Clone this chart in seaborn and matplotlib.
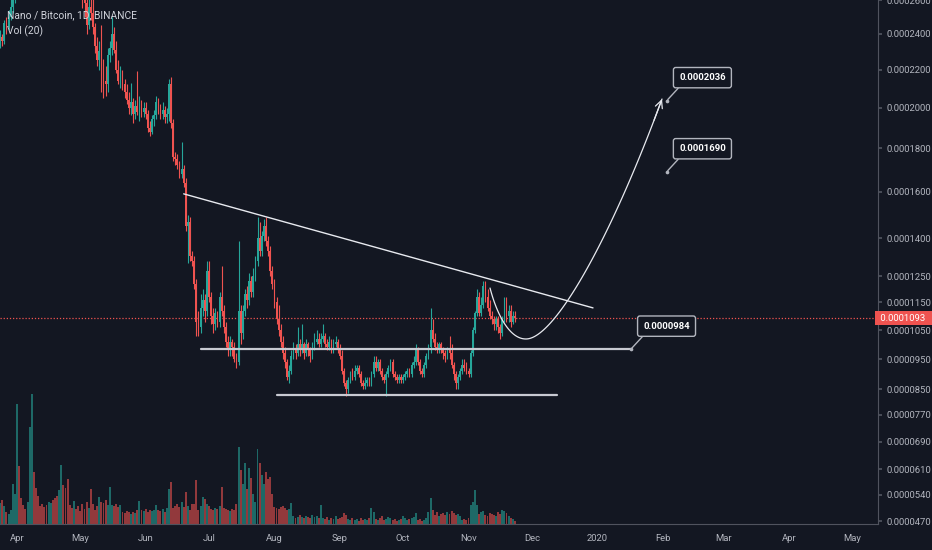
import numpy as np
import pandas as pd
import matplotlib
matplotlib.use("Agg")
import matplotlib.pyplot as plt
import matplotlib.transforms as mtransforms
import seaborn as sns

# colours (TradingView dark)
BG = '#131722'
UP = '#26a69a'
DOWN = '#ef5350'
TXT = '#b2b5be'
LINE = '#50535e'

# daily candles, prices in 1e-6 BTC, first candle = 2019-03-24
start_date = '2019-03-24'
first_open = 236
close_u = [238, 236, 246, 244, 250, 256, 275, 282, 305, 298,
           292, 288, 285, 300, 330, 342, 325, 318, 312, 309,
           305, 300, 296, 298, 302, 295, 288, 284, 290, 296,
           292, 286, 282, 279, 275, 277, 273, 270, 268, 262,
           258, 245, 256, 252, 244, 233, 225, 230, 222, 214,
           212, 228, 232, 240, 231, 220, 214, 218, 212, 208,
           204, 200, 203, 197, 201, 198, 202, 198, 200, 197,
           190, 188, 194, 196, 203, 200, 197, 199, 195, 197,
           212, 192, 176, 175, 172, 168, 170, 164, 145, 147,
           133, 131, 122, 108, 106, 113, 116, 112, 127, 117,
           110, 107, 111, 108, 117, 112, 106, 101, 98, 101,
           99, 95, 94, 112, 104, 112, 118, 116, 123, 119,
           125, 131, 140, 135, 141, 145, 139, 135, 127, 122,
           115, 109, 105, 101, 97, 94, 89, 91, 96, 98,
           97, 100, 98, 100, 97, 100, 98, 96, 99, 101,
           102, 100, 102, 103, 100, 99, 101, 98, 100, 101,
           98, 96, 91, 87, 85, 88, 90, 89, 91, 92,
           90, 87, 86, 87, 88, 87, 90, 94, 92, 94,
           91, 89, 88, 90, 92, 94, 90, 89, 88, 89,
           88, 89, 90, 91, 90, 93, 94, 98, 94, 91,
           90, 93, 96, 99, 105, 102, 99, 98, 100, 98,
           97, 96, 98, 97, 93, 90, 87, 89, 91, 93,
           92, 91, 90, 97, 105, 111, 117, 111, 114, 121,
           117, 113, 110, 109, 107, 109, 106, 104, 109, 113,
           110, 112, 108, 110, 109.3]
high_u = [242, 240, 248, 250, 254, 262, 290, 292, 312, 310,
          300, 296, 292, 304, 338, 360, 345, 328, 320, 316,
          312, 308, 303, 304, 308, 304, 297, 291, 295, 305,
          299, 294, 290, 285, 282, 281, 279, 276, 273, 275,
          266, 262, 262, 268, 262, 246, 238, 236, 245, 226,
          222, 232, 236, 250, 244, 236, 225, 222, 220, 215,
          212, 208, 213, 205, 204, 219, 206, 204, 203, 203,
          199, 193, 196, 199, 206, 205, 202, 203, 201, 200,
          215, 216, 194, 178, 177, 174, 183, 172, 166, 150,
          149, 135, 133, 124, 112, 118, 120, 118, 131, 131,
          119, 113, 113, 112, 119, 129, 114, 108, 103, 103,
          102, 101, 97, 139, 114, 114, 120, 121, 126, 125,
          128, 133, 149, 147, 143, 148, 149, 141, 137, 129,
          124, 117, 114, 107, 103, 99, 95, 93, 98, 101,
          100, 106, 102, 107, 101, 102, 101, 99, 101, 104,
          105, 104, 104, 107, 104, 102, 103, 102, 102, 103,
          102, 100, 98, 92, 88, 89, 91, 92, 93, 93,
          93, 91, 88, 89, 89, 89, 91, 96, 96, 95,
          95, 92, 90, 91, 93, 95, 95, 91, 90, 90,
          90, 90, 91, 92, 92, 94, 96, 100, 99, 95,
          92, 94, 97, 100, 113, 109, 104, 101, 101, 101,
          99, 98, 99, 103, 100, 94, 91, 90, 92, 95,
          95, 94, 92, 98, 106, 112, 120, 119, 117, 123,
          123, 120, 116, 112, 110, 110, 110, 107, 110, 117,
          117, 114, 114, 112, 112]
low_u = [232, 233, 234, 240, 242, 248, 252, 258, 280, 292,
         286, 282, 280, 283, 298, 325, 318, 312, 305, 303,
         300, 295, 290, 292, 296, 290, 284, 279, 282, 288,
         287, 281, 276, 274, 270, 271, 268, 265, 263, 255,
         250, 240, 243, 248, 240, 229, 222, 220, 208, 205,
         206, 208, 224, 228, 229, 218, 212, 210, 209, 205,
         202, 197, 196, 192, 194, 196, 193, 195, 195, 194,
         188, 186, 187, 191, 194, 197, 194, 194, 192, 192,
         193, 190, 174, 172, 170, 166, 166, 162, 143, 130,
         131, 129, 120, 103, 103, 104, 110, 108, 110, 115,
         107, 104, 105, 106, 106, 110, 104, 99, 96, 96,
         96, 94, 92, 93, 100, 102, 110, 113, 114, 117,
         117, 123, 129, 133, 133, 139, 137, 133, 125, 120,
         113, 107, 103, 99, 95, 92, 88, 87, 90, 95,
         95, 96, 96, 97, 95, 96, 96, 94, 95, 98,
         100, 99, 99, 101, 99, 98, 98, 97, 97, 99,
         97, 95, 90, 86, 83, 84, 87, 88, 88, 90,
         89, 86, 85, 85, 86, 86, 86, 89, 91, 91,
         90, 88, 87, 83, 89, 91, 89, 88, 87, 87,
         87, 87, 88, 89, 89, 89, 92, 93, 93, 90,
         89, 89, 92, 95, 97, 101, 98, 97, 97, 97,
         95, 94, 95, 95, 92, 88, 85, 85, 88, 90,
         91, 90, 89, 89, 96, 104, 110, 110, 110, 113,
         115, 112, 109, 107, 105, 105, 104, 102, 103, 108,
         108, 108, 106, 107, 108]
volume = [21, 24, 18, 12, 10, 14, 40, 30, 120, 58,
          26, 19, 15, 22, 97, 130, 52, 36, 28, 18,
          20, 17, 19, 22, 21, 24, 26, 28, 34, 59,
          39, 36, 45, 19, 16, 23, 15, 18, 13, 20,
          15, 22, 16, 35, 20, 14, 18, 27, 22, 21,
          24, 19, 37, 19, 18, 20, 17, 19, 12, 11,
          13, 12, 10, 12, 11, 14, 23, 14, 13, 15,
          12, 14, 13, 14, 19, 14, 13, 15, 12, 16,
          35, 42, 16, 18, 20, 17, 22, 17, 32, 18,
          14, 20, 20, 44, 14, 18, 27, 25, 20, 18,
          15, 14, 16, 15, 18, 37, 16, 15, 14, 13,
          15, 14, 20, 77, 54, 40, 61, 35, 56, 46,
          30, 22, 75, 61, 49, 40, 52, 45, 47, 30,
          17, 16, 15, 17, 18, 16, 14, 15, 21, 8,
          6, 7, 9, 7, 6, 8, 7, 6, 9, 7,
          8, 6, 19, 6, 5, 7, 4, 6, 5, 8,
          5, 6, 7, 11, 9, 5, 4, 6, 4, 5,
          3, 6, 4, 5, 4, 6, 16, 12, 5, 4,
          6, 8, 4, 5, 7, 6, 4, 5, 3, 4,
          5, 8, 6, 4, 5, 6, 7, 11, 4, 5,
          3, 4, 6, 12, 26, 14, 9, 12, 8, 10,
          11, 9, 12, 10, 13, 11, 9, 10, 8, 4,
          5, 4, 6, 19, 22, 34, 19, 10, 12, 13,
          9, 8, 11, 10, 9, 8, 12, 10, 14, 13,
          11, 8, 6, 5, 3]

last_price = 109.3
price_ticks = [260, 240, 220, 200, 180, 160, 140, 125, 115, 105,
               95, 85, 77, 69, 61, 54, 47]
month_ticks = ['2019-04-01', '2019-05-01', '2019-06-01', '2019-07-01',
               '2019-08-01', '2019-09-01', '2019-10-01', '2019-11-01',
               '2019-12-01', '2020-01-01', '2020-02-01', '2020-03-01',
               '2020-04-01', '2020-05-01']
month_labels = ['Apr', 'May', 'Jun', 'Jul', 'Aug', 'Sep', 'Oct', 'Nov',
                'Dec', '2020', 'Feb', 'Mar', 'Apr', 'May']

# chart drawings (date, price)
wedge_top = [('2019-06-19', 159), ('2019-12-30', 113)]
support = [('2019-06-27', 98.4), ('2020-01-17', 98.4)]
base_line = [('2019-08-02', 83.2), ('2019-12-13', 83.2)]
target_labels = [('2020-02-03', 203.6), ('2020-02-03', 169.0), ('2020-01-17', 98.4)]
# projected path: two cubic bezier pieces, (day offset, price) control points
path_days = [[232.2, 235.5, 241.7, 249.7], [249.7, 263.0, 289.0, 313.7]]
path_prices = [[120.4, 110.4, 101.5, 101.9], [101.9, 102.6, 139.0, 204.4]]

sns.set_theme(style="dark", rc={'axes.facecolor': BG, 'figure.facecolor': BG})
plt.rcParams['font.family'] = ['Roboto', 'DejaVu Sans']

t0 = pd.Timestamp(start_date)
def day(d):
    return (pd.Timestamp(d) - t0).days

closes = np.array(close_u, dtype=float)
opens = np.concatenate([[first_open], closes[:-1]])
highs = np.array(high_u, dtype=float)
lows = np.array(low_u, dtype=float)
days = np.arange(len(closes))
is_up = closes >= opens
cols = np.where(is_up, UP, DOWN)

fwd = lambda v: np.log(np.maximum(np.asarray(v, dtype=float) + 110, 1e-9))
inv = lambda v: np.exp(v) - 110

fig = plt.figure(figsize=(9.32, 5.5), dpi=100)
ax = fig.add_axes([0, 26 / 550, 878 / 932, 524 / 550])
ax2 = ax.twinx()

# volume overlay (behind)
ax.set_zorder(2)
ax.patch.set_visible(False)
ax2.set_zorder(1)
ax2.set_facecolor(BG)
ax2.bar(days, volume, width=0.92, color=cols, alpha=0.58, linewidth=0)
ax2.set_ylim(0, 524)
ax2.set_yticks([])
for s in ax2.spines.values():
    s.set_visible(False)

ax.set_yscale('function', functions=(fwd, inv))
ax.vlines(days, lows, highs, colors=cols, linewidth=0.8, zorder=3)
ax.bar(days, closes - opens, bottom=opens, width=0.8, color=cols,
       linewidth=0, zorder=4)

ax.axhline(last_price, color=DOWN, ls=(0, (1, 1.5)), lw=0.9, zorder=2)

# drawings
(d1, p1), (d2, p2) = wedge_top
ax.plot([day(d1), day(d2)], [p1, p2], color='#e8eaf0', lw=1.0, zorder=5)
for seg in (support, base_line):
    (d1, p1), (d2, p2) = seg
    ax.plot([day(d1), day(d2)], [p1, p2], color='#c8cad2', lw=1.6, zorder=5)

t = np.linspace(0, 1, 60)[:, None]
bern = np.hstack([(1 - t) ** 3, 3 * (1 - t) ** 2 * t, 3 * (1 - t) * t ** 2, t ** 3])
px, py = [], []
for dx, dp in zip(path_days, path_prices):
    px.append(bern @ np.array(dx))
    py.append(inv(bern @ fwd(dp)))
px = np.concatenate(px)
py = np.concatenate(py)
ax.plot(px, py, color='#e8eaf0', lw=0.9, zorder=5)
ax.annotate('', xy=(px[-1], py[-1]), xytext=(px[-4], py[-4]),
            arrowprops=dict(arrowstyle='->,head_length=0.45,head_width=0.22',
                            color='#e8eaf0', lw=0.9, shrinkA=0, shrinkB=0),
            zorder=5)

for d, p in target_labels:
    ax.scatter([day(d)], [p], s=7, color=TXT, zorder=6, linewidths=0)
    ax.annotate(f"{p * 1e-6:.7f}", xy=(day(d), p), xytext=(25.6, 16.5),
                textcoords='offset points', ha='center', va='center',
                fontsize=6.8, fontweight='bold', color='white', zorder=7,
                bbox=dict(boxstyle='round,pad=0.6,rounding_size=0.25', fc=BG,
                          ec=TXT, lw=1),
                arrowprops=dict(arrowstyle='-', color=TXT, lw=1,
                                relpos=(0.1, 0), shrinkA=0, shrinkB=1))

# axes
ax.set_xlim(-0.05, 416.07)
ax.set_ylim(46.3, 260)
ax.yaxis.tick_right()
ax.set_yticks(price_ticks)
ax.set_yticklabels([f"{p * 1e-6:.7f}" for p in price_ticks])
ax.set_xticks([day(m) for m in month_ticks])
ax.set_xticklabels(month_labels)
ax.tick_params(axis='y', which='both', length=3, pad=3, labelsize=6.8,
               colors=TXT, direction='out', right=True, left=False)
ax.tick_params(axis='x', length=3, pad=4, labelsize=6.8, colors=TXT,
               direction='out')
ax.tick_params(axis='y', color=LINE)
ax.tick_params(axis='x', color=LINE)
ax.minorticks_off()
ax.grid(False)
ax2.grid(False)
for side in ('top', 'left'):
    ax.spines[side].set_visible(False)
for side in ('right', 'bottom'):
    ax.spines[side].set_color(LINE)
    ax.spines[side].set_linewidth(0.8)

blend = mtransforms.blended_transform_factory(ax.transAxes, ax.transData)
ax.text(1.0, last_price, f" {last_price * 1e-6:.7f}  ", transform=blend,
        ha='left', va='center', fontsize=6.8, color='white', clip_on=False,
        zorder=10, bbox=dict(boxstyle='square,pad=0.3', fc=DOWN, ec='none'))

fig.text(7 / 932, 1 - 15 / 550, "Nano / Bitcoin, 1D, BINANCE", color='#d1d4dc',
         fontsize=7.4, va='center', ha='left')
fig.text(7 / 932, 1 - 31 / 550, "Vol (20)", color='#d1d4dc',
         fontsize=7.4, va='center', ha='left')

fig.savefig('out.png', dpi=100, facecolor=BG)
